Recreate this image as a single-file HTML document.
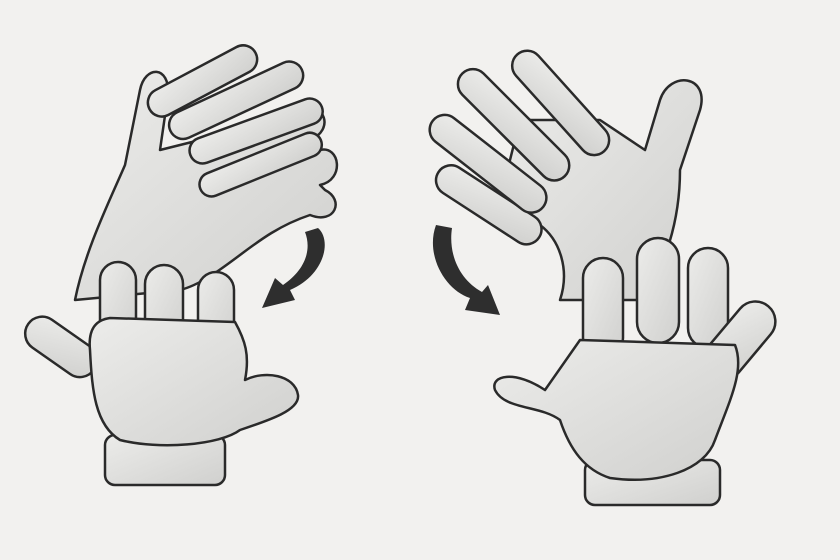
<!DOCTYPE html>
<html><head><meta charset="utf-8"><style>
html,body{margin:0;padding:0;background:#f2f1ef;}
svg{display:block}
</style></head><body>
<svg width="840" height="560" viewBox="0 0 840 560">
<rect width="840" height="560" fill="#f2f1ef"/>
<defs>
<linearGradient id="sk" x1="0" y1="0" x2="1" y2="1"><stop offset="0" stop-color="#ececea"/><stop offset="1" stop-color="#d0d0ce"/></linearGradient>
</defs>
<g fill="url(#sk)" stroke="#2a2a2a" stroke-width="2.5" stroke-linejoin="round">
<g>
<path d="M75,300 C85,250 110,200 125,165 L140,90 C145,65 170,65 168,95 L160,150 L200,140 L300,110 C325,100 335,130 310,140 L320,150 C340,145 345,180 320,185 L325,190 C345,200 335,225 310,215 C280,225 260,240 240,255 C220,270 200,285 180,290 Z"/>
<rect x="150" y="95" width="120" height="28" rx="14" transform="rotate(-28 150 110)"/>
<rect x="170" y="117" width="145" height="28" rx="14" transform="rotate(-25 170 130)"/>
<rect x="190" y="142" width="140" height="26" rx="13" transform="rotate(-20 190 154)"/>
<rect x="200" y="177" width="130" height="24" rx="12" transform="rotate(-22 200 188)"/>
</g>
<g>
<rect x="105" y="435" width="120" height="50" rx="10"/>
<rect x="38" y="310" width="80" height="34" rx="17" transform="rotate(35 38 310)"/>
<rect x="100" y="262" width="36" height="80" rx="18"/>
<rect x="145" y="265" width="38" height="80" rx="19"/>
<rect x="198" y="272" width="36" height="75" rx="18"/>
<path d="M90,350 C88,330 95,320 110,318 L235,322 C245,340 250,355 245,380 C265,370 295,375 298,395 C300,410 270,420 240,430 C220,445 160,450 120,440 C95,425 92,390 90,350 Z"/>
</g>
<g>
<path d="M560,300 C570,270 560,240 540,225 L500,200 L520,120 L600,120 L645,150 L660,100 C670,70 710,75 700,110 L680,170 C680,220 665,270 640,300 Z"/>
<rect x="445" y="165" width="120" height="30" rx="15" transform="rotate(33 455 165)"/>
<rect x="440" y="115" width="140" height="30" rx="15" transform="rotate(38 450 115)"/>
<rect x="470" y="70" width="145" height="30" rx="15" transform="rotate(45 480 70)"/>
<rect x="525" y="52" width="130" height="30" rx="15" transform="rotate(48 535 52)"/>
</g>
<g>
<rect x="585" y="460" width="135" height="45" rx="10"/>
<rect x="583" y="258" width="40" height="100" rx="20"/>
<rect x="637" y="238" width="42" height="105" rx="21"/>
<rect x="688" y="248" width="40" height="100" rx="20"/>
<rect x="745" y="305" width="40" height="90" rx="20" transform="rotate(40 765 310)"/>
<path d="M560,420 C540,405 505,410 495,390 C490,375 515,370 545,390 L580,340 L735,345 C745,370 730,400 715,440 C705,470 660,485 610,478 C585,470 570,450 560,420 Z"/>
</g>
</g>
<g fill="#2e2e2e">
<path d="M318,228 C332,240 325,275 290,290 L295,300 L262,308 L275,278 L283,285 C305,270 312,250 305,232 Z"/>
<path d="M436,225 C425,255 445,290 470,298 L465,310 L500,315 L488,285 L482,292 C460,280 448,255 452,228 Z"/>
</g>
</svg>
</body></html>
